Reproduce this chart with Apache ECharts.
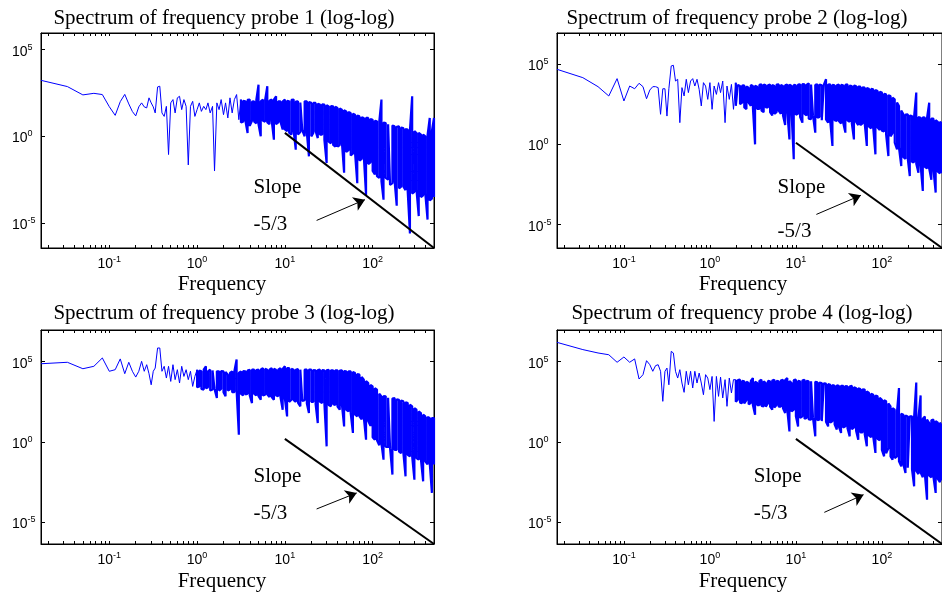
<!DOCTYPE html>
<html>
<head>
<meta charset="utf-8">
<script src="https://cdn.jsdelivr.net/npm/echarts@6/dist/echarts.min.js"></script>
<style>
html,body{margin:0;padding:0;background:#fff;}
#chart{width:942px;height:595px;}
</style>
</head>
<body>
<div id="chart"></div>
<script>
// ---------------- data ----------------
// frequency samples shared by the four spectra
const freq = [
  0.01667, 0.0333, 0.05, 0.0667, 0.0833, 0.1, 0.1167, 0.1333, 0.15, 0.1667,
  0.1833, 0.2, 0.2167, 0.2333, 0.25, 0.2667, 0.2833, 0.3, 0.3167, 0.3333,
  0.355, 0.376, 0.398, 0.422, 0.447, 0.473, 0.501, 0.531, 0.562, 0.596,
  0.631, 0.668, 0.708, 0.750, 0.794, 0.841, 0.891, 0.944,
  1.00, 1.06, 1.12, 1.19, 1.26, 1.33, 1.41, 1.50, 1.58, 1.68,
  1.78, 1.88, 2.00, 2.11, 2.24, 2.37, 2.51, 2.66, 2.82, 2.99,
  3.16, 3.35, 3.55, 3.76, 3.98, 4.22, 4.47, 4.73, 5.01, 5.31,
  5.62, 5.96, 6.31, 6.68, 7.08, 7.50, 7.94, 8.41, 8.91, 9.44,
  10.0, 10.6, 11.2, 11.9, 12.6, 13.3, 14.1, 15.0, 15.8, 16.8,
  17.8, 18.8, 20.0, 21.1, 22.4, 23.7, 25.1, 26.6, 28.2, 29.9,
  31.6, 33.5, 35.5, 37.6, 39.8, 42.2, 44.7, 47.3, 50.1, 53.1,
  56.2, 59.6, 63.1, 66.8, 70.8, 75.0, 79.4, 84.1, 89.1, 94.4,
  100, 106, 112, 119, 126, 133, 141, 150, 158, 168,
  178, 188, 200, 211, 224, 237, 251, 266, 282, 299,
  316, 335, 355, 376, 398, 422, 447, 473, 500
];

// spectral power of each probe at every frequency, as log10 exponents (value = 10^e)
const probe1Log = [
  3.23, 2.87, 2.39, 2.48, 2.41, 1.71, 1.21, 2.0, 2.42, 1.87,
  1.43, 1.18, 1.70, 1.93, 1.70, 1.64, 2.22, 1.93, 1.70, 1.35,
  2.85, 2.89, 1.35, 1.15, 1.73, -1.05, 1.93, 2.12, 1.35, 2.22,
  2.31, 1.54, 2.12, 1.73, -1.65, 1.73, 2.02, 1.15,
  1.54, 1.93, 1.44, 1.73, 1.54, 1.93, 1.35, 1.73, -2.0, 1.93,
  1.54, 2.12, 1.25, 1.93, 1.06, 2.22, 1.35, 2.12, 2.41, 0.96,
  2.12, 0.85, 2.02, 0.19, 2.12, 0.9, 2.02, 0.75, 2.98, 0.0,
  2.12, 0.85, 2.89, 0.7, 2.12, -0.19, 2.31, 0.8, 2.02, 0.4,
  2.12, 0.3, 2.02, 0.1, 2.12, -0.77, 2.02, 0.25, 1.93, 0.0,
  2.02, -1.15, 1.93, 0.2, 1.93, -0.1, 1.83, 0.1, 1.83, -1.54,
  1.73, -0.4, 1.73, -0.6, 1.64, -0.5, 1.54, -2.1, 1.44, -0.8,
  1.35, -1.0, 1.25, -2.7, 1.15, -1.3, 1.06, -3.4, 1.06, -1.5,
  0.96, -2.2, 0.87, -2.4, 2.12, -3.65, 0.77, -2.5, 0.67, -2.7,
  0.58, -4.0, 0.58, -2.9, 0.48, -3.1, 0.39, -5.6, 2.31, -3.2,
  0.19, -4.6, 0.1, -3.4, 0.0, -4.8, 1.06, -3.6, 1.06
];
const probe2Log = [
  4.67, 4.15, 3.59, 3.01, 4.09, 2.70, 3.63, 3.46, 3.80, 3.59,
  2.84, 3.38, 3.59, 3.59, 3.53, 1.87, 3.46, 3.46, 1.76, 3.46,
  4.88, 4.92, 3.94, 4.05, 1.35, 3.53, 3.01, 4.05, 3.22, 3.94,
  4.09, 3.63, 4.05, 3.42, 2.39, 3.84, 3.63, 2.80,
  3.84, 2.18, 3.63, 3.11, 3.84, 3.22, 3.94, 1.35, 3.63, 2.80,
  3.73, 2.18, 3.84, 2.3, 3.63, 2.6, 3.67, 2.2, 3.53, 2.4,
  3.63, 0.0, 3.59, 2.2, 3.73, 2.0, 3.67, 2.3, 3.73, 1.8,
  3.63, 2.0, 3.73, 1.9, 3.63, 1.2, 3.73, 0.31, 3.63, -0.93,
  3.67, 1.9, 3.73, 1.35, 3.73, 1.8, 3.80, 1.56, 3.63, 0.73,
  3.73, 1.7, 3.67, 1.5, 4.05, 1.35, 3.73, -0.10, 3.67, 1.45,
  3.73, 1.3, 3.67, 0.73, 3.73, 1.4, 3.63, 0.31, 3.63, 1.2,
  3.59, 1.3, 3.53, -0.10, 3.46, 1.0, 3.42, -0.62, 3.32, 0.9,
  3.22, 0.8, 3.11, -0.73, 3.01, 0.7, 2.80, -0.31, 2.39, -1.35,
  1.87, -0.9, 1.87, -1.97, 1.76, -1.1, 3.22, -1.76, 1.66, -2.9,
  1.66, -1.5, 2.59, -2.2, 1.6, -3.0, 1.4, -1.8, 1.3
];
const probe3Log = [
  4.87, 4.96, 4.56, 4.71, 5.23, 4.40, 4.50, 5.17, 4.25, 4.96,
  4.40, 4.04, 4.40, 5.02, 4.40, 4.81, 4.25, 3.56, 4.40, 4.60,
  5.85, 5.85, 4.40, 4.71, 3.98, 4.71, 3.77, 4.81, 3.88, 4.50,
  3.67, 4.71, 4.08, 4.50, 3.88, 4.40, 3.46, 4.08,
  4.50, 3.46, 4.40, 3.26, 4.71, 3.4, 4.50, 3.26, 4.40, 2.74,
  4.40, 3.3, 4.40, 2.84, 4.19, 3.26, 4.40, 3.1, 5.13, 0.45,
  4.40, 2.9, 4.40, 3.0, 4.50, 2.42, 4.50, 2.9, 4.50, 2.63,
  4.60, 2.94, 4.50, 2.8, 4.60, 2.63, 4.50, 2.84, 4.60, 2.01,
  4.71, 1.59, 4.60, 2.63, 4.50, 2.5, 4.54, 2.22, 4.50, 2.6,
  4.50, 1.80, 4.50, 2.5, 4.46, 1.18, 4.50, 2.42, 4.46, -0.27,
  4.50, 2.22, 4.46, 2.3, 4.46, 2.01, 4.46, 0.97, 4.40, 1.9,
  4.40, 0.56, 4.29, 1.6, 4.19, 1.4, 3.88, 0.14, 3.67, 1.0,
  3.46, 0.14, 3.26, -0.2, 2.84, -1.10, 2.84, -0.3, 2.63, -2.03,
  2.73, -0.5, 2.63, -0.7, 2.53, -2.14, 2.42, -0.9, 2.22, -2.35,
  2.01, -1.1, 1.80, -2.45, 1.59, -1.4, 1.49, -3.17, 1.49
];
const probe4Log = [
  6.20, 5.75, 5.54, 5.43, 4.96, 5.29, 4.96, 5.17, 3.92, 4.19,
  5.06, 4.81, 4.40, 4.75, 4.81, 4.40, 2.53, 4.40, 4.60, 3.56,
  5.64, 5.54, 4.40, 3.98, 4.50, 3.67, 3.09, 4.40, 3.56, 4.40,
  3.36, 4.40, 3.67, 4.29, 3.67, 2.94, 4.19, 3.98,
  3.26, 4.08, 1.28, 4.08, 2.84, 4.04, 2.74, 3.88, 2.22, 3.98,
  3.05, 3.88, 3.88, 2.63, 3.88, 2.42, 3.77, 2.6, 3.67, 2.42,
  3.98, 1.70, 3.67, 2.3, 3.88, 2.22, 3.67, 2.4, 3.77, 2.01,
  3.88, 2.3, 3.77, 2.2, 3.88, 1.80, 3.98, 0.66, 3.67, 2.01,
  3.88, 0.97, 3.77, 1.6, 3.88, 1.5, 3.77, 1.39, 3.88, 0.35,
  3.71, 1.4, 3.67, 1.3, 3.63, 0.97, 3.56, 1.3, 3.50, 0.77,
  3.50, 0.56, 3.50, 0.97, 3.46, 0.35, 3.50, 0.9, 3.36, 0.14,
  3.30, 0.6, 3.26, -0.27, 3.05, 0.3, 2.94, -0.68, 2.84, 0.1,
  2.63, -0.89, 2.53, -0.4, 2.22, -1.10, 2.01, -0.9, 3.36, -1.52,
  1.70, -1.93, 1.59, -1.5, 1.59, -2.76, 3.7, -2.0, 2.9, -2.2,
  1.59, -3.59, 1.18, -2.2, 1.39, -3.17, 1.2, -2.5, 1.0
];

// where each spectrum becomes a dense band (first frequency of the band)
const denseStart = [3.16, 2.0, 1.0, 2.0];
// opposite extreme of the band at every frequency from denseStart on (log10)
const probe1AltLog = [
  0.8, 2.05, 0.9, 2.1, 0.6, 2.0, 0.85, 2.1, 0.7, 2.02,
  0.9, 2.1, 0.8, 2.05, 0.9, 2.12, 0.7, 2.02, 0.85, 2.0,
  0.4, 2.05, 0.2, 2.1, 0.3, 2.0, 0.1, 1.95, 0.35, 2.02,
  0.2, 1.98, 0.0, 1.93, 0.3, 1.88, 0.1, 1.85, -0.2, 1.8,
  -0.3, 1.75, -0.5, 1.7, -0.6, 1.6, -0.4, 1.5, -0.9, 1.4,
  -1.1, 1.3, -1.0, 1.2, -1.4, 1.1, -1.2, 1.06, -1.6, 1.0,
  -2.0, 0.9, -2.3, 0.85, -2.6, 0.8, -2.4, 0.7, -2.8, 0.62,
  -2.6, 0.55, -3.0, 0.5, -2.9, 0.42, -3.2, 0.35, -3.3, 0.3,
  -3.1, 0.2, -3.5, 0.1, -3.3, 0.05, -3.7, 0.3, -3.5
];
const probe2AltLog = [
  2.4, 3.7, 2.5, 3.65, 2.3, 3.6, 2.6, 3.7, 2.3, 3.65,
  2.2, 3.7, 2.1, 3.72, 2.3, 3.68, 2.0, 3.7, 1.9, 3.72,
  2.1, 3.7, 1.8, 3.68, 2.0, 3.72, 1.9, 3.7,
  1.85, 3.72, 1.7, 3.75, 1.9, 3.7, 1.6, 3.72, 1.8, 3.7,
  1.65, 3.72, 1.5, 3.7, 1.55, 3.72, 1.4, 3.7, 1.5, 3.68,
  1.45, 3.7, 1.35, 3.7, 1.5, 3.65, 1.3, 3.65, 1.4, 3.6,
  1.2, 3.55, 1.3, 3.5, 1.1, 3.45, 1.0, 3.38, 1.05, 3.28,
  0.85, 3.15, 0.6, 3.05, 0.5, 2.9, 0.1, 2.6, -0.2, 2.1,
  -0.8, 1.85, -0.9, 1.8, -1.1, 1.75, -1.2, 1.7, -1.3, 1.68,
  -1.4, 1.65, -1.5, 1.6, -1.6, 1.5, -1.7, 1.4, -1.8
];
const probe3AltLog = [
  3.4, 4.45, 3.3, 4.5, 3.35, 4.4, 3.2, 4.45, 3.3, 4.4,
  3.2, 4.42, 3.1, 4.35, 3.2, 4.3, 3.1, 4.4, 3.2, 4.3,
  3.0, 4.42, 2.95, 4.45, 2.9, 4.5, 3.0, 4.48, 2.85, 4.5,
  2.9, 4.55, 2.95, 4.5, 2.8, 4.55, 2.9, 4.5, 2.8, 4.55,
  2.7, 4.6, 2.5, 4.55, 2.6, 4.5, 2.45, 4.5, 2.55, 4.5,
  2.4, 4.5, 2.5, 4.48, 2.35, 4.48, 2.5, 4.47, 2.4, 4.46,
  2.3, 4.46, 2.35, 4.46, 2.2, 4.45, 2.3, 4.42, 2.0, 4.4,
  1.8, 4.35, 1.7, 4.22, 1.6, 4.05, 1.5, 3.8, 1.3, 3.55,
  0.3, 3.35, 0.1, 3.0, -0.1, 2.85, -0.3, 2.75, -0.4, 2.7,
  -0.5, 2.65, -0.6, 2.58, -0.7, 2.48, -0.8, 2.32, -0.9, 2.1,
  -1.0, 1.9, -1.1, 1.7, -1.2, 1.55, -1.3, 1.49, -1.4
];
const probe4AltLog = [
  2.5, 3.85, 2.45, 3.8, 2.4, 3.75, 2.35, 3.8, 2.3, 3.75,
  2.3, 3.8, 2.25, 3.78, 2.2, 3.8, 2.2, 3.82, 2.15, 3.8,
  2.2, 3.82, 2.1, 3.85, 2.0, 3.8, 1.9, 3.85,
  1.6, 3.8, 1.5, 3.82, 1.45, 3.8, 1.4, 3.78, 1.5, 3.75,
  1.35, 3.7, 1.3, 3.65, 1.25, 3.6, 1.2, 3.55, 1.1, 3.52,
  0.95, 3.5, 0.9, 3.48, 0.85, 3.45, 0.8, 3.4, 0.7, 3.35,
  0.6, 3.28, 0.5, 3.15, 0.4, 3.0, 0.3, 2.9, 0.2, 2.75,
  -0.5, 2.6, -0.7, 2.4, -0.9, 2.1, -1.0, 1.9, -1.2, 1.75,
  -1.4, 1.65, -1.6, 1.6, -1.7, 1.55, -1.8, 1.5, -1.9, 1.45,
  -2.0, 1.4, -2.1, 1.35, -2.2, 1.3, -2.3, 1.2, -2.4
];

const titles = [
  'Spectrum of frequency probe 1 (log-log)',
  'Spectrum of frequency probe 2 (log-log)',
  'Spectrum of frequency probe 3 (log-log)',
  'Spectrum of frequency probe 4 (log-log)'
];
const xAxisTitle = 'Frequency';
const xRange = [0.016667, 500];
// y ranges as log10 exponents [min, max]
const yRangeLog = [[-6.44, 5.96], [-6.45, 6.93], [-6.35, 6.97], [-6.35, 6.97]];
const xLabelValues = [0.1, 1, 10, 100];
const xTickValues = [
  0.02, 0.03, 0.04, 0.05, 0.06, 0.07, 0.08, 0.09,
  0.1, 0.2, 0.3, 0.4, 0.5, 0.6, 0.7, 0.8, 0.9,
  1, 2, 3, 4, 5, 6, 7, 8, 9,
  10, 20, 30, 40, 50, 60, 70, 80, 90,
  100, 200, 300, 400, 500
];
const yLabelValues = [1e-5, 1, 1e5];

// -5/3 reference line: [freq, log10 power] of start and end
const slopeLineLog = [
  [[10, 0.20], [500, -6.44]],
  [[10, 0.10], [500, -6.45]],
  [[10, 0.19], [500, -6.35]],
  [[10, 0.19], [500, -6.35]]
];
// arrows: [freq, log10 power] tail -> head
const arrowLog = [
  [[23.0, -4.85], [81.7, -3.65]],
  [[17.3, -4.36], [57.0, -3.17]],
  [[23.0, -4.17], [65.8, -3.17]],
  [[21.4, -4.38], [61.2, -3.28]]
];
// annotation texts: [freq, log10 power, text] (left edge, vertical middle)
const noteText = [
  [[4.33, -2.96, 'Slope'], [4.33, -5.10, '-5/3']],
  [[6.04, -2.67, 'Slope'], [6.04, -5.41, '-5/3']],
  [[4.33, -2.12, 'Slope'], [4.33, -4.42, '-5/3']],
  [[3.19, -2.12, 'Slope'], [3.19, -4.42, '-5/3']]
];
const probes = [probe1Log, probe2Log, probe3Log, probe4Log];
const probesAlt = [probe1AltLog, probe2AltLog, probe3AltLog, probe4AltLog];

// ---------------- layout / style ----------------
const panels = [
  {left: 41,  top: 33,  height: 215, titleX: 224, titleY: 8,   nameX: 222, nameY: 274},
  {left: 557, top: 33,  height: 215, titleX: 737, titleY: 8,   nameX: 743, nameY: 274},
  {left: 41,  top: 330, height: 214, titleX: 224, titleY: 303, nameX: 222, nameY: 571},
  {left: 557, top: 330, height: 214, titleX: 742, titleY: 303, nameX: 743, nameY: 571}
];
const PW = 393;
const SERIF = '"Liberation Serif", "Times New Roman", serif';
const SANS = '"Liberation Sans", Arial, sans-serif';
const p10 = e => Math.pow(10, e);

const grid = [], xAxis = [], yAxis = [], series = [], title = [];
const supFmt = v => '{b|10}{s|' + Math.round(Math.log10(v)) + '}';
const richLbl = {
  b: {fontSize: 14, lineHeight: 18, fontFamily: SANS, color: '#000'},
  s: {fontSize: 9, lineHeight: 10, fontFamily: SANS, color: '#000', verticalAlign: 'top'}
};

panels.forEach((p, i) => {
  grid.push({left: p.left, top: p.top, width: PW, height: p.height, show: true,
    borderColor: '#000', borderWidth: 1, containLabel: false});
  const yMin = p10(yRangeLog[i][0]), yMax = p10(yRangeLog[i][1]);
  xAxis.push({type: 'log', logBase: 10, gridIndex: i, position: 'bottom', min: xRange[0], max: xRange[1],
    axisLine: {show: true, onZero: false, lineStyle: {color: '#000', width: 1}},
    axisTick: {show: true, inside: true, length: 3, customValues: xTickValues, lineStyle: {color: '#000'}},
    minorTick: {show: false}, splitLine: {show: false},
    axisLabel: {show: true, margin: 7, customValues: xLabelValues, formatter: supFmt, rich: richLbl}
  });
  xAxis.push({type: 'log', logBase: 10, gridIndex: i, position: 'top', min: xRange[0], max: xRange[1],
    axisLine: {show: true, onZero: false, lineStyle: {color: '#000', width: 1}},
    axisTick: {show: true, inside: true, length: 3, customValues: xTickValues, lineStyle: {color: '#000'}},
    splitLine: {show: false}, axisLabel: {show: false}
  });
  yAxis.push({type: 'log', logBase: 10, gridIndex: i, position: 'left', min: yMin, max: yMax,
    axisLine: {show: true, onZero: false, lineStyle: {color: '#000', width: 1}},
    axisTick: {show: true, inside: true, length: 4, customValues: yLabelValues, lineStyle: {color: '#000'}},
    splitLine: {show: false},
    axisLabel: {show: true, align: 'left', margin: 29, padding: [4, 0, 0, 0],
      customValues: yLabelValues, formatter: supFmt, rich: richLbl}
  });
  yAxis.push({type: 'log', logBase: 10, gridIndex: i, position: 'right', min: yMin, max: yMax,
    axisLine: {show: true, onZero: false, lineStyle: {color: '#000', width: 1}},
    axisTick: {show: true, inside: true, length: 4, customValues: yLabelValues, lineStyle: {color: '#000'}},
    splitLine: {show: false}, axisLabel: {show: false}
  });

  const xi = 2 * i, yi = 2 * i;
  const vals = probes[i], alt = probesAlt[i];
  const cut = freq.findIndex(f => f >= denseStart[i]);
  // sparse (low frequency) part
  const sparse = [];
  for (let k = 0; k <= cut; k++) sparse.push([freq[k], p10(vals[k])]);
  // dense band: both extremes at each frequency, visited alternately
  const dense = [];
  for (let k = cut; k < freq.length; k++) {
    const j = k - cut;
    const hi = Math.max(vals[k], alt[j]), lo = Math.min(vals[k], alt[j]);
    if (j % 2 === 0) { dense.push([freq[k], p10(hi)]); dense.push([freq[k], p10(lo)]); }
    else { dense.push([freq[k], p10(lo)]); dense.push([freq[k], p10(hi)]); }
  }
  series.push({type: 'line', xAxisIndex: xi, yAxisIndex: yi, symbol: 'none', showSymbol: false,
    sampling: null, clip: true, z: 2,
    lineStyle: {color: '#0000ff', width: 1}, itemStyle: {color: '#0000ff'},
    data: sparse
  });
  series.push({type: 'line', xAxisIndex: xi, yAxisIndex: yi, symbol: 'none', showSymbol: false,
    sampling: null, clip: true, z: 2,
    lineStyle: {color: '#0000ff', width: 2.2, join: 'bevel'}, itemStyle: {color: '#0000ff'},
    data: dense
  });
  series.push({type: 'line', xAxisIndex: xi, yAxisIndex: yi, symbol: 'none', clip: true, z: 3,
    lineStyle: {color: '#000', width: 2}, itemStyle: {color: '#000'},
    data: slopeLineLog[i].map(d => [d[0], p10(d[1])])
  });
  series.push({type: 'lines', coordinateSystem: 'cartesian2d', xAxisIndex: xi, yAxisIndex: yi, z: 4,
    symbol: ['none', 'arrow'], symbolSize: [8, 11],
    lineStyle: {color: '#000', width: 1, opacity: 1, curveness: 0},
    data: [{coords: arrowLog[i].map(d => [d[0], p10(d[1])])}]
  });
  series.push({type: 'scatter', xAxisIndex: xi, yAxisIndex: yi, z: 5, symbolSize: 1,
    itemStyle: {color: 'rgba(0,0,0,0)', opacity: 1},
    label: {show: true, position: 'right', distance: 0, formatter: prm => prm.data[2],
      fontFamily: SERIF, fontSize: 21, color: '#000', opacity: 1, textBorderWidth: 0},
    emphasis: {disabled: true},
    data: noteText[i].map(d => [d[0], p10(d[1]), d[2]])
  });

  title.push({text: titles[i], left: p.titleX, top: p.titleY, textAlign: 'center', padding: 0,
    textStyle: {fontFamily: SERIF, fontSize: 21, fontWeight: 'normal', color: '#000'}});
  title.push({text: xAxisTitle, left: p.nameX, top: p.nameY, textAlign: 'center', padding: 0,
    textStyle: {fontFamily: SERIF, fontSize: 21, fontWeight: 'normal', color: '#000'}});
});

const chart = echarts.init(document.getElementById('chart'), null, {renderer: 'canvas'});
chart.setOption({
  animation: false,
  backgroundColor: '#fff',
  title, grid, xAxis, yAxis, series
});
</script>
</body>
</html>
